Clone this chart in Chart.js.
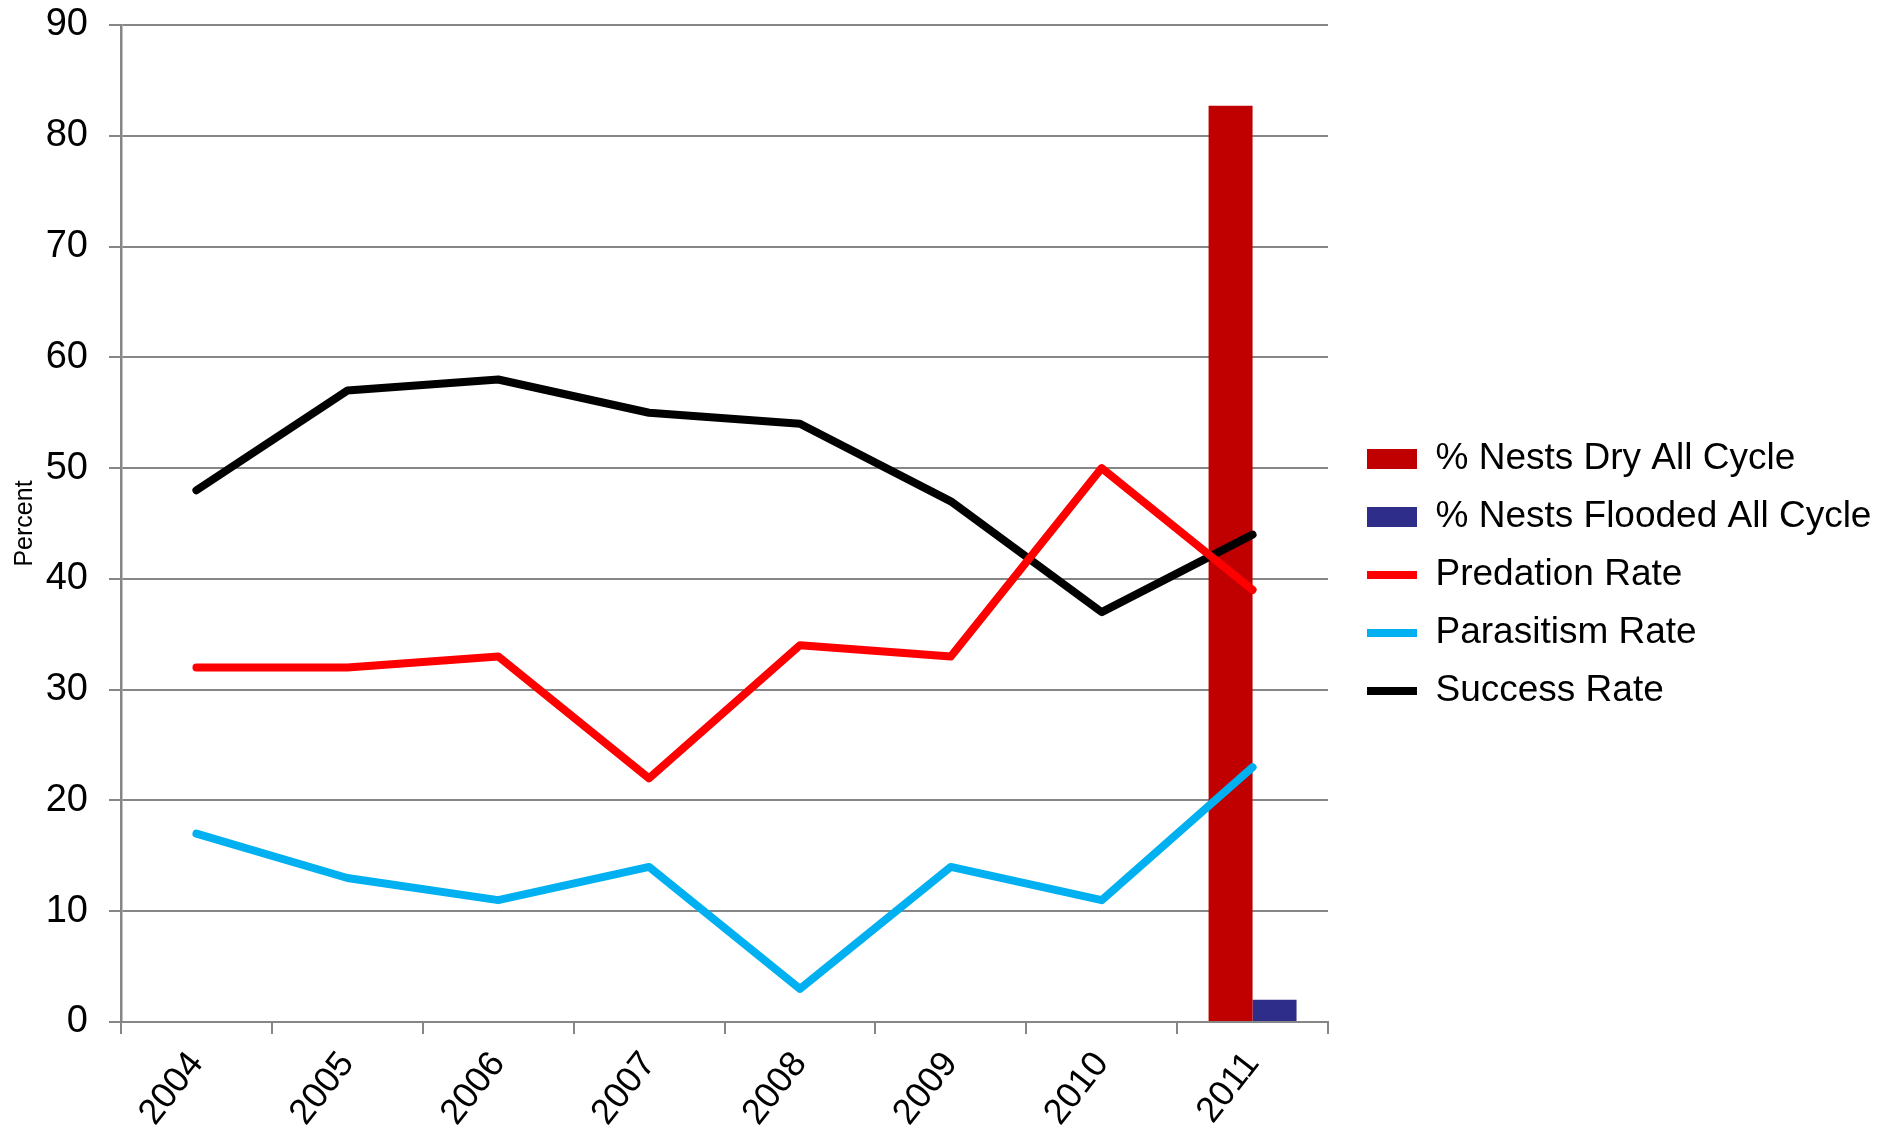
<!DOCTYPE html>
<html>
<head>
<meta charset="utf-8">
<title>Nest outcomes 2004-2011</title>
<script src="https://cdn.jsdelivr.net/npm/chart.js@4"></script>
<style>
  body { margin: 0; background: #fff; }
  #wrap { width: 1892px; height: 1135px; }
</style>
</head>
<body>
<div id="wrap"><canvas id="myChart" width="1892" height="1135"></canvas></div>
<script>
const years = ['2004', '2005', '2006', '2007', '2008', '2009', '2010', '2011']
const yTicks = [0, 10, 20, 30, 40, 50, 60, 70, 80, 90]

// bars only exist for 2011
const nestsDry = [null, null, null, null, null, null, null, 82.7]
const nestsFlooded = [null, null, null, null, null, null, null, 2]

const predation = [32, 32, 33, 22, 34, 33, 50, 39]
const parasitism = [17, 13, 11, 14, 3, 14, 11, 23]
const success = [48, 57, 58, 55, 54, 47, 37, 44]

const gridGray = '#868686'
Chart.defaults.font.family = "'Liberation Sans', Arial, sans-serif"
Chart.defaults.color = '#000'

function lineSet(label, data, color) {
    return {
        type: 'line',
        label: label,
        data: data,
        borderColor: color,
        backgroundColor: color,
        borderWidth: 8,
        borderCapStyle: 'round',
        borderJoinStyle: 'round',
        pointRadius: 0,
        tension: 0,
        order: 0
    }
}

// keep the legend column a fixed width so the plot ends where it should,
// then nudge the legend block a little right and up
const legendWidth = {
    id: 'legendWidth',
    beforeLayout(chart) {
        const legend = chart.legend
        if (legend && !legend._fixedWidth) {
            const fit = legend.fit
            legend.fit = function () {
                fit.call(this)
                this.width = 564
            }
            legend._fixedWidth = true
        }
    },
    afterLayout(chart) {
        const legend = chart.legend
        if (legend) {
            legend.left += 18
            legend.top -= 5
            legend.bottom -= 5
        }
    }
}

var ctx = document.getElementById('myChart').getContext('2d');
const myChart = new Chart(ctx, {
    type: 'bar',
    data: {
        labels: years,
        datasets: [
            {
                label: '% Nests Dry All Cycle',
                data: nestsDry,
                backgroundColor: '#c00000',
                borderWidth: 0,
                order: 1
            },
            {
                label: '% Nests Flooded All Cycle',
                data: nestsFlooded,
                backgroundColor: '#2e2d8a',
                borderWidth: 0,
                order: 1
            },
            lineSet('Predation Rate', predation, '#ff0000'),
            lineSet('Parasitism Rate', parasitism, '#00b0f0'),
            lineSet('Success Rate', success, '#000000')
        ]
    },
    plugins: [legendWidth],
    options: {
        responsive: false,
        animation: false,
        devicePixelRatio: 1,
        categoryPercentage: 0.583,
        barPercentage: 1,
        layout: {
            padding: { left: 6, top: 25, right: 0, bottom: 0 }
        },
        plugins: {
            tooltip: { enabled: false },
            legend: {
                position: 'right',
                labels: {
                    font: { size: 37 },
                    color: '#000',
                    usePointStyle: true,
                    pointStyleWidth: 50,
                    boxHeight: 20,
                    padding: 21,
                    sort: (a, b) => a.datasetIndex - b.datasetIndex,
                    generateLabels: function (chart) {
                        const items = Chart.defaults.plugins.legend.labels.generateLabels(chart)
                        items.forEach(item => {
                            const ds = chart.data.datasets[item.datasetIndex]
                            item.pointStyle = ds.type === 'line' ? 'line' : 'rect'
                        })
                        return items
                    }
                }
            }
        },
        scales: {
            x: {
                offset: true,
                afterFit: axis => {
                    axis.height = 113
                    axis.paddingLeft = 0
                    axis.paddingRight = 0
                },
                grid: {
                    offset: true,
                    drawOnChartArea: false,
                    color: gridGray,
                    lineWidth: 2,
                    tickLength: 12
                },
                border: { display: true, color: gridGray, width: 2 },
                ticks: {
                    font: { size: 36 },
                    minRotation: 52,
                    maxRotation: 52,
                    padding: 10
                }
            },
            y: {
                min: 0,
                max: 90,
                afterBuildTicks: axis => { axis.ticks = yTicks.map(v => ({ value: v })) },
                afterFit: axis => {
                    axis.width = 115
                    axis.paddingTop = 0
                    axis.paddingBottom = 0
                },
                grid: {
                    color: gridGray,
                    lineWidth: 2,
                    tickLength: 12
                },
                border: { display: true, color: gridGray, width: 2.5 },
                ticks: {
                    font: { size: 38 },
                    padding: 21
                },
                title: {
                    display: true,
                    text: 'Percent',
                    font: { size: 25 },
                    padding: { top: 4, bottom: 0 }
                }
            }
        }
    }
})
</script>
</body>
</html>
